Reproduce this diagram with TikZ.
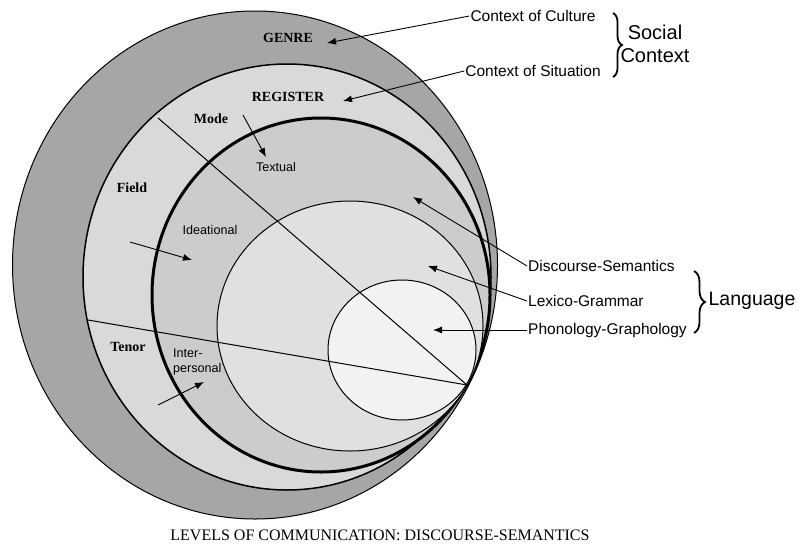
\documentclass[tikz,border=0pt]{standalone}
\usepackage{fontspec}
\setmainfont{Liberation Serif}
\newfontfamily\arial{Liberation Sans}
\usetikzlibrary{arrows.meta,decorations.pathreplacing}
\definecolor{genregray}{gray}{0.65}
\definecolor{registergray}{gray}{0.85}
\definecolor{discoursegray}{gray}{0.80}
\definecolor{lexicogray}{gray}{0.88}
\definecolor{phonogray}{gray}{0.95}
\tikzset{
  ring/.style={draw=black,line width=1pt},
  level/.style={font=\bfseries\fontsize{14}{16}\selectfont,inner sep=1pt},
  meta/.style={font=\arial\fontsize{12.6}{14.5}\selectfont,inner sep=1pt},
  ctx/.style={font=\arial\fontsize{15.5}{17}\selectfont,inner sep=1pt},
  pointer/.style={line width=0.9pt,-{Latex[length=9pt,width=7pt]}},
  bracket/.style={decorate,decoration={brace,amplitude=9pt},line width=1.8pt},
}
\begin{document}
\begin{tikzpicture}[x=1pt,y=-1pt]
\useasboundingbox (0,0) rectangle (799,546);
\fill[white] (0,0) rectangle (799,546);
\draw[ring,fill=genregray] (255,265) ellipse [x radius=242.5,y radius=254];
\draw[ring,fill=registergray,line width=1.5pt] (287,277) ellipse [x radius=204,y radius=213];
\draw[ring,fill=discoursegray,line width=3pt] (321,295) ellipse [x radius=169,y radius=177];
\draw[ring,fill=lexicogray] (350,326) ellipse [x radius=133,y radius=125];
\draw[ring,fill=phonogray] (402,350) ellipse [x radius=74,y radius=70];
\coordinate (touch) at (467,385);
\coordinate (modecut) at (158,118);
\coordinate (tenorcut) at (88,320);
\draw[line width=1pt] (modecut) -- (touch);
\draw[line width=1pt] (tenorcut) -- (touch);

\node[level] (genre) at (288,38) {GENRE};
\node[level] (register) at (288,97) {REGISTER};
\node[level] (mode) at (211,119) {Mode};
\node[level] (field) at (132,188) {Field};
\node[level] (tenor) at (128,347) {Tenor};
\node[meta] (textual) at (276,167) {Textual};
\node[meta] (ideational) at (210,230) {Ideational};
\node[meta,align=left,anchor=west] (interpersonal) at (172,362) {Inter-\\personal};

\coordinate (modefrom) at (243,115);
\coordinate (modeto) at (266,157);
\coordinate (fieldfrom) at (130,242);
\coordinate (fieldto) at (192,260);
\coordinate (tenorfrom) at (158,405);
\coordinate (tenorto) at (204,382);
\draw[pointer] (modefrom) -- (modeto);
\draw[pointer] (fieldfrom) -- (fieldto);
\draw[pointer] (tenorfrom) -- (tenorto);

\node[ctx] (culture) at (533,16) {Context of Culture};
\node[ctx] (situation) at (533,71) {Context of Situation};
\node[font=\arial\fontsize{20}{23}\selectfont,align=center] (social) at (655,44) {Social\\Context};
\draw[bracket] (613,13) -- (613,77);
\coordinate (genretip) at (327,43);
\coordinate (registertip) at (343,101);
\draw[pointer] (culture.west) -- (genretip);
\draw[pointer] (situation.west) -- (registertip);

\node[ctx,anchor=west] (discourse) at (527,266) {Discourse-Semantics};
\node[ctx,anchor=west] (lexico) at (527,301) {Lexico-Grammar};
\node[ctx,anchor=west] (phono) at (527,330) {Phonology-Graphology};
\node[font=\arial\fontsize{19.5}{22}\selectfont] (language) at (752,301) {Language};
\draw[bracket,decoration={amplitude=11pt}] (694,271) -- (694,333);
\coordinate (discoursetip) at (413,197);
\coordinate (lexicotip) at (428,266);
\coordinate (phonotip) at (433,330);
\draw[pointer] (discourse.west) -- (discoursetip);
\draw[pointer] (lexico.west) -- (lexicotip);
\draw[pointer] (phono.west) -- (phonotip);

\node[font=\fontsize{16}{18}\selectfont] (caption) at (380,535) {LEVELS OF COMMUNICATION: DISCOURSE-SEMANTICS};
\end{tikzpicture}
\end{document}
